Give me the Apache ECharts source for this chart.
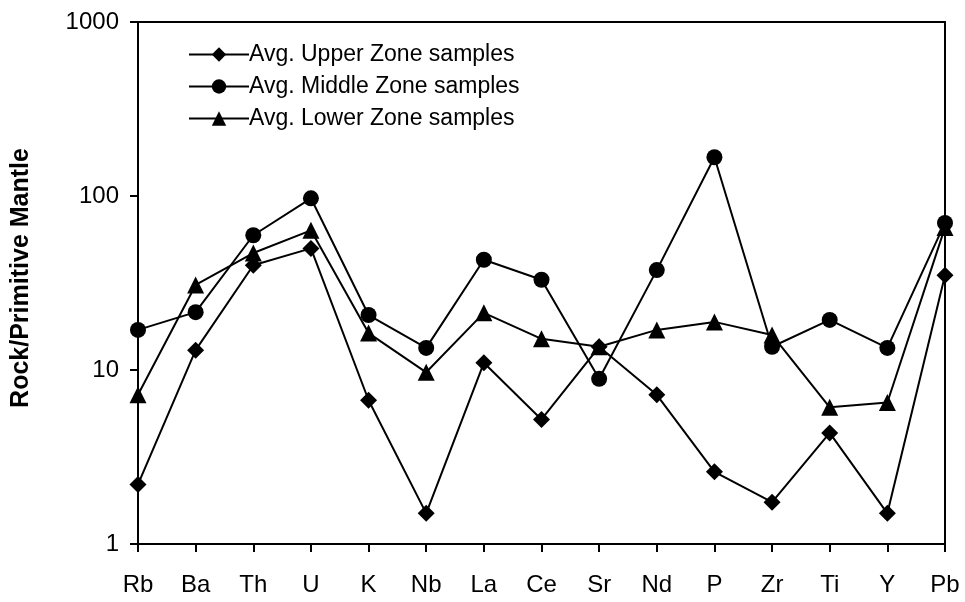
<!DOCTYPE html>
<html>
<head>
<meta charset="utf-8">
<script src="https://cdn.jsdelivr.net/npm/echarts@6/dist/echarts.min.js"></script>
<style>html,body{margin:0;padding:0;background:#fff;}#c{width:965px;height:602px;}</style>
</head>
<body>
<div id="c"></div>
<script>
var elements = ['Rb','Ba','Th','U','K','Nb','La','Ce','Sr','Nd','P','Zr','Ti','Y','Pb'];
var upperZone  = [2.2, 13.0, 40, 50, 6.7, 1.5, 11.0, 5.2, 13.6, 7.2, 2.6, 1.74, 4.35, 1.5, 35];
var middleZone = [17.0, 21.5, 59.5, 97, 20.7, 13.4, 43, 33, 8.9, 37.5, 167, 13.6, 19.4, 13.4, 70];
var lowerZone  = [7.2, 30.8, 47, 63.5, 16.3, 9.7, 21.3, 15.1, 13.6, 17.0, 18.9, 15.9, 6.1, 6.5, 66];
var seriesNames = ['Avg. Upper Zone samples','Avg. Middle Zone samples','Avg. Lower Zone samples'];
var yTicks = [1, 10, 100, 1000];

var font = 'Liberation Sans, Arial, sans-serif';
var chart = echarts.init(document.getElementById('c'));
function mk(name, data, sym, size) {
  return {
    name: name, type: 'line', data: data, symbol: sym, symbolSize: size,
    showSymbol: true,
    lineStyle: {color: '#000', width: 2},
    itemStyle: {color: '#000'},
    emphasis: {disabled: true},
    animation: false
  };
}
chart.setOption({
  backgroundColor: '#fff',
  animation: false,
  grid: {left: 138, right: 20, top: 22, bottom: 58, show: true, borderColor: '#000', borderWidth: 2, backgroundColor: 'transparent'},
  legend: {
    orient: 'vertical', left: 183, top: 38, itemGap: 9, itemWidth: 60, itemHeight: 18,
    textStyle: {fontFamily: font, fontSize: 23, color: '#000', padding: [0,0,0,-5]},
    data: seriesNames
  },
  xAxis: {
    type: 'category', data: elements, boundaryGap: false,
    axisLine: {lineStyle: {color: '#000', width: 2}},
    axisTick: {show: true, length: 8, lineStyle: {color: '#000', width: 2}, alignWithLabel: true},
    axisLabel: {fontFamily: font, fontSize: 24, color: '#000', margin: 29},
    splitLine: {show: false}
  },
  yAxis: {
    type: 'log', logBase: 10, min: 1, max: 1000,
    name: 'Rock/Primitive Mantle', nameLocation: 'middle', nameGap: 104, nameRotate: 90,
    nameTextStyle: {fontFamily: font, fontSize: 25, fontWeight: 'bold', color: '#000', padding: [0,0,0,10]},
    axisLine: {show: true, lineStyle: {color: '#000', width: 2}},
    axisTick: {show: true, length: 8, lineStyle: {color: '#000', width: 2}},
    axisLabel: {fontFamily: font, fontSize: 24, color: '#000', margin: 19,
      formatter: function(v){ return yTicks.indexOf(Math.round(v)) >= 0 ? String(Math.round(v)) : ''; }},
    splitLine: {show: false}
  },
  series: [
    mk(seriesNames[0], upperZone, 'diamond', 17),
    mk(seriesNames[1], middleZone, 'circle', 16),
    mk(seriesNames[2], lowerZone, 'triangle', 17)
  ]
});
</script>
</body>
</html>
